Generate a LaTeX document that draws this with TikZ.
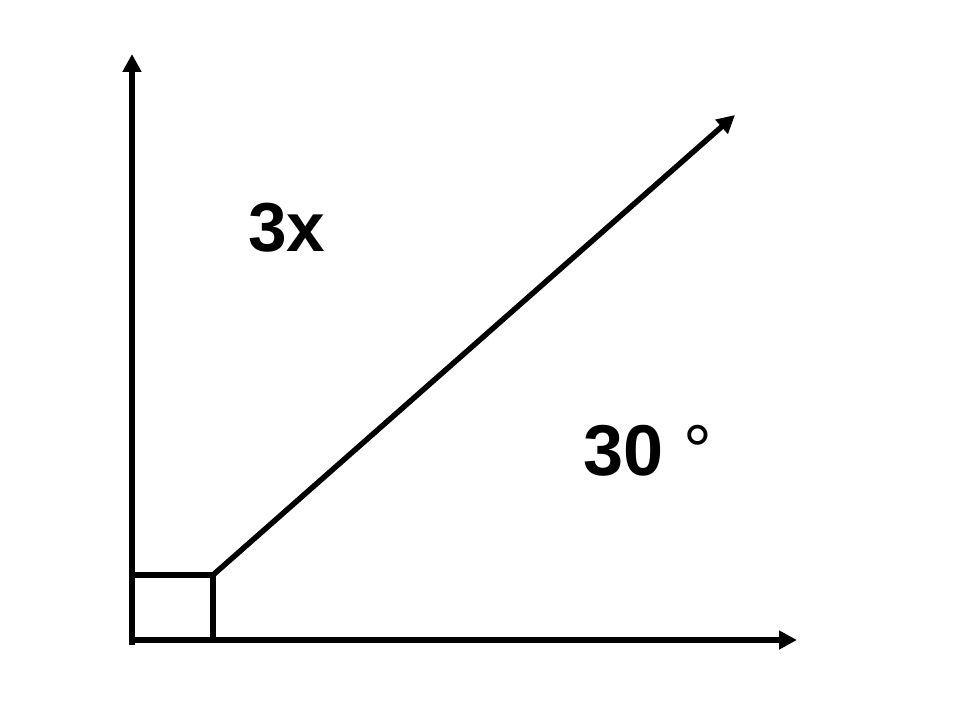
\documentclass[tikz,border=0pt]{standalone}
\usepackage{fontspec}
\setmainfont{Liberation Sans}
\usetikzlibrary{arrows.meta}
\begin{document}
\begin{tikzpicture}[x=0.75pt,y=-0.75pt,
  axis/.style={line width=4.1pt,-{Triangle[length=13.5pt,width=13.5pt]}},
  edge/.style={line width=4.1pt},
  lbl/.style={inner sep=0pt,anchor=base west,font=\bfseries}]
\useasboundingbox (0,0) rectangle (960,720);
\coordinate (bot) at (132,645);
\coordinate (ytop) at (132,54);
\coordinate (xl) at (130,640);
\coordinate (xend) at (797,640);
\coordinate (sq1) at (132,575);
\coordinate (corner) at (213,575);
\coordinate (sq3) at (213,640);
\coordinate (rayend) at (735,115);
\draw[axis] (bot) -- (ytop);
\draw[axis] (xl) -- (xend);
\draw[edge] (sq1) -- (corner) -- (sq3);
\draw[axis] (corner) -- (rayend);
\node[lbl,font=\fontsize{52pt}{60pt}\bfseries] (a) at (248,252) {3x};
\node[lbl,font=\fontsize{54pt}{64pt}\bfseries] (b) at (583,475) {30 {\mdseries °}};
\end{tikzpicture}
\end{document}
